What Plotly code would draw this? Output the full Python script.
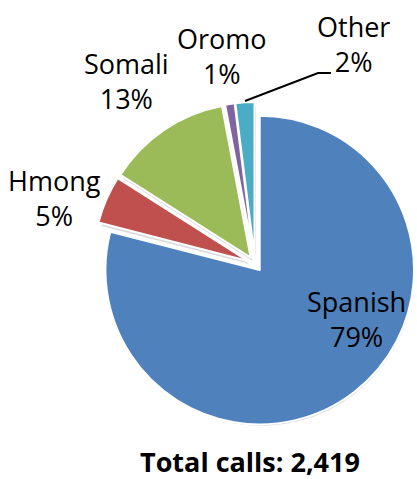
import plotly.graph_objects as go

languages = ["Spanish", "Hmong", "Somali", "Oromo", "Other"]
calls = [1911, 121, 315, 24, 48]
percent_labels = ["79%", "5%", "13%", "1%", "2%"]
colors = ["#4F81BD", "#C0504D", "#9BBB59", "#8064A2", "#4BACC6"]
total_label = "Total calls: 2,419"

W, H = 417, 479
PULL = 0.05
DOM_X = [0.223, 1.0]
DOM_Y = [0.1107, 0.7871]

def px_x(x):
    return x / W

def px_y(y):
    return 1 - y / H

fig = go.Figure()

# soft shadow behind the pie
fig.add_trace(go.Pie(
    labels=languages, values=calls, sort=False, direction="clockwise",
    rotation=0, pull=[PULL] * len(calls),
    marker=dict(colors=["rgba(0,0,0,0.15)"] * len(calls), line=dict(width=0)),
    textinfo="none", textposition="none", hoverinfo="skip",
    domain=dict(x=[DOM_X[0] + 3 / W, min(1.0, DOM_X[1] + 3 / W)],
                y=[DOM_Y[0] - 3 / H, DOM_Y[1] - 3 / H]),
    showlegend=False,
))

fig.add_trace(go.Pie(
    labels=languages,
    values=calls,
    text=percent_labels,
    textinfo="none",
    textposition="none",
    sort=False,
    direction="clockwise",
    rotation=0,
    pull=[PULL] * len(calls),
    marker=dict(colors=colors, line=dict(color="white", width=2)),
    domain=dict(x=DOM_X, y=DOM_Y),
    showlegend=False,
    hoverinfo="label+percent",
))

# data labels (label + percentage), placed as in the original
label_pos = {
    "Spanish": (356, 319),
    "Hmong": (54, 198),
    "Somali": (126, 81),
    "Oromo": (222, 56),
    "Other": (353, 44),
}
for name, pct in zip(languages, percent_labels):
    x, y = label_pos[name]
    fig.add_annotation(
        text=f"{name}<br>{pct}",
        x=px_x(x), y=px_y(y), xref="paper", yref="paper",
        xanchor="center", yanchor="middle", showarrow=False,
        font=dict(family="Open Sans", size=27, color="black"),
    )

# leader line for "Other"
fig.add_shape(
    type="path",
    path=f"M {px_x(245)} {px_y(101)} L {px_x(318)} {px_y(73)} L {px_x(331)} {px_y(73)}",
    xref="paper", yref="paper",
    line=dict(color="black", width=2),
)

fig.add_annotation(
    text="<b>" + total_label + "</b>",
    x=px_x(250), y=px_y(461), xref="paper", yref="paper",
    xanchor="center", yanchor="middle",
    showarrow=False,
    font=dict(family="Open Sans", size=27, color="black"),
)

fig.update_layout(
    width=W, height=H,
    margin=dict(l=0, r=0, t=0, b=0),
    paper_bgcolor="white",
    plot_bgcolor="white",
)

fig.write_html("out.html", config={"displayModeBar": False},
               post_script="document.body.style.margin='0';")
